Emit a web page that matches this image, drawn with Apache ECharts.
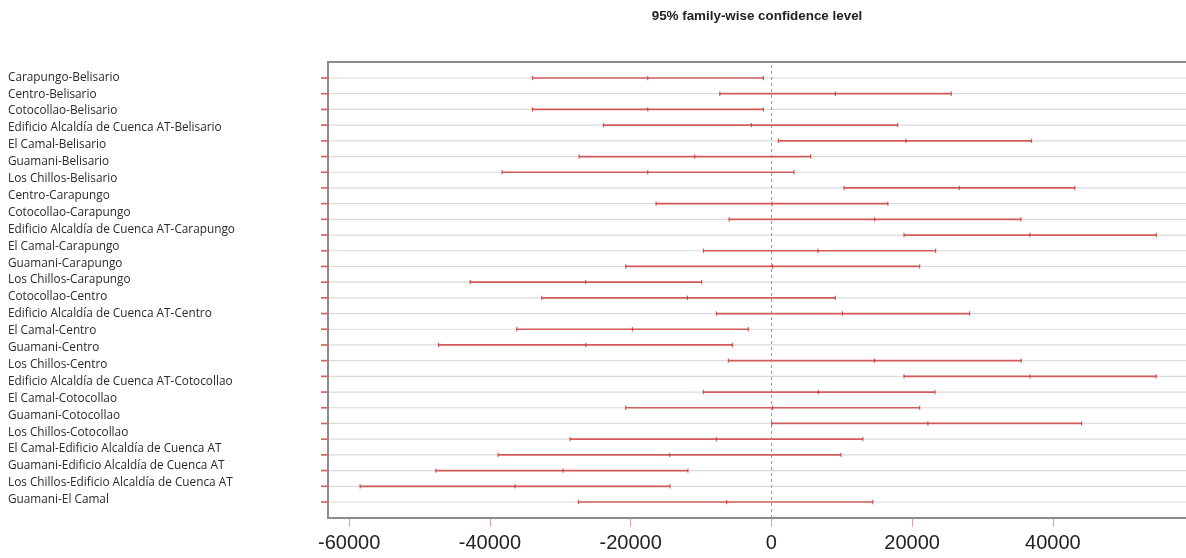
<!DOCTYPE html>
<html><head><meta charset="utf-8">
<script src="https://cdn.jsdelivr.net/npm/echarts@6/dist/echarts.min.js"></script>
<style>html,body{margin:0;padding:0;background:#fff}#c{width:1186px;height:558px}</style>
</head><body><div id="c"></div>
<script>
// All 28 pairwise comparisons (plot rows, top to bottom)
const comparisons = [
  'Carapungo-Belisario','Centro-Belisario','Cotocollao-Belisario','Edificio Alcaldía de Cuenca AT-Belisario',
  'El Camal-Belisario','Guamani-Belisario','Los Chillos-Belisario','Centro-Carapungo','Cotocollao-Carapungo',
  'Edificio Alcaldía de Cuenca AT-Carapungo','El Camal-Carapungo','Guamani-Carapungo','Los Chillos-Carapungo',
  'Cotocollao-Centro','Edificio Alcaldía de Cuenca AT-Centro','El Camal-Centro','Guamani-Centro','Los Chillos-Centro',
  'Edificio Alcaldía de Cuenca AT-Cotocollao','El Camal-Cotocollao','Guamani-Cotocollao','Los Chillos-Cotocollao',
  'El Camal-Edificio Alcaldía de Cuenca AT','Guamani-Edificio Alcaldía de Cuenca AT','Los Chillos-Edificio Alcaldía de Cuenca AT',
  'Guamani-El Camal','Los Chillos-El Camal','Los Chillos-Guamani'
];
// Labels printed at the left of the picture (26 of them)
const axisLabels = [
  'Carapungo-Belisario','Centro-Belisario','Cotocollao-Belisario','Edificio Alcaldía de Cuenca AT-Belisario',
  'El Camal-Belisario','Guamani-Belisario','Los Chillos-Belisario','Centro-Carapungo','Cotocollao-Carapungo',
  'Edificio Alcaldía de Cuenca AT-Carapungo','El Camal-Carapungo','Guamani-Carapungo','Los Chillos-Carapungo',
  'Cotocollao-Centro','Edificio Alcaldía de Cuenca AT-Centro','El Camal-Centro','Guamani-Centro','Los Chillos-Centro',
  'Edificio Alcaldía de Cuenca AT-Cotocollao','El Camal-Cotocollao','Guamani-Cotocollao','Los Chillos-Cotocollao',
  'El Camal-Edificio Alcaldía de Cuenca AT','Guamani-Edificio Alcaldía de Cuenca AT','Los Chillos-Edificio Alcaldía de Cuenca AT',
  'Guamani-El Camal'
];
const lwr  = [-33950,-7340,-33950,-23860,1000,-27330,-38270,10310,-16390,-6020,18840,-9660,-20700,-42810,-32630,-7810,-36180,-47300,-6110,18840,-9660,-20700,40,-28610,-38840,-47690,-58440,-27420];
const diff = [-17570,9090,-17570,-2840,19120,-10900,-17570,26700,80,14670,36730,6620,180,-26380,-11930,10090,-19740,-26380,14670,36730,6680,180,22240,-7810,-14450,-29600,-36420,-6350];
const upr  = [-1140,25570,-1140,17940,36970,5580,3210,43130,16560,35460,54690,23340,21070,-9900,9090,28170,-3270,-5540,35510,54690,23240,21070,44080,13010,9890,-11850,-14400,14430];
const xTicks = [-60000,-40000,-20000,0,20000,40000];
const titleText = '95% family-wise confidence level';

const xMin = -63000, xMax = 60620;
const nRows = comparisons.length;
const yMin = 1 - 1.02, yMax = nRows + 1.02;

const red = 'rgba(204,45,45,0.74)';
const rows = comparisons.map((n, i) => [lwr[i], diff[i], upr[i], nRows - i, n]);

const chart = echarts.init(document.getElementById('c'), null, {renderer: 'canvas'});
chart.setOption({
  animation: false,
  backgroundColor: '#fff',
  graphic: [{
    type: 'text', x: 757, y: 16,
    style: {text: titleText, align: 'center', verticalAlign: 'middle',
      font: 'bold 13.4px "Liberation Sans", Arial, sans-serif', fill: '#222'}
  }],
  grid: [
    {left: 328, top: 62, width: 870, height: 456, outerBoundsMode: 'none', containLabel: false, show: false},
    {left: 328, top: 68.85, width: 1, height: 439.4, outerBoundsMode: 'none', containLabel: false, show: false}
  ],
  xAxis: [
    {type: 'value', gridIndex: 0, min: xMin, max: xMax,
      axisLine: {show: false}, splitLine: {show: false},
      axisTick: {show: true, customValues: xTicks, length: 9, lineStyle: {color: '#d9a3a3', width: 1}},
      axisLabel: {customValues: xTicks, margin: 15, fontSize: 20, color: '#222',
        formatter: v => String(v),
        fontFamily: '"Liberation Sans", Arial, sans-serif'}},
    {type: 'value', gridIndex: 1, show: false}
  ],
  yAxis: [
    {type: 'value', gridIndex: 0, min: yMin, max: yMax, show: false},
    {type: 'category', gridIndex: 1, data: axisLabels, inverse: true,
      axisLine: {show: false}, axisTick: {show: false}, splitLine: {show: false},
      axisLabel: {interval: 0, align: 'left', margin: 320, fontSize: 11.8, color: '#2a2a2a',
        fontFamily: '"Open Sans", "Noto Sans", sans-serif'}}
  ],
  series: [{
    type: 'custom', xAxisIndex: 0, yAxisIndex: 0, clip: false,
    data: rows,
    encode: {x: [0, 1, 2], y: 3},
    renderItem: function (params, api) {
      const y = api.value(3);
      const pL = api.coord([api.value(0), y]);
      const pM = api.coord([api.value(1), y]);
      const pU = api.coord([api.value(2), y]);
      const g0 = api.coord([xMin, y]);
      const g1 = api.coord([xMax, y]);
      const yy = pL[1];
      const tick = p => ({type: 'line', shape: {x1: p[0], y1: yy - 2.2, x2: p[0], y2: yy + 2.2}, style: {stroke: red, lineWidth: 1.2}});
      const children = [
        {type: 'line', shape: {x1: g0[0] + 1, y1: yy, x2: g1[0], y2: yy}, style: {stroke: '#dadada', lineWidth: 1.2}},
        {type: 'line', shape: {x1: g0[0] - 7, y1: yy, x2: g0[0] - 1, y2: yy}, style: {stroke: red, lineWidth: 1.7}},
        {type: 'line', shape: {x1: pL[0], y1: yy, x2: pU[0], y2: yy}, style: {stroke: red, lineWidth: 1.7}},
        tick(pL), tick(pM), tick(pU)
      ];
      if (params.dataIndex === 0) {
        const tr = api.coord([xMax, yMax]), tl = api.coord([xMin, yMax]);
        const bl = api.coord([xMin, yMin]), br = api.coord([xMax, yMin]);
        children.unshift({type: 'polyline', shape: {points: [tr, tl, bl, br]},
          style: {stroke: '#8c8c8c', lineWidth: 2, fill: null}});
      }
      return {type: 'group', children: children};
    },
    markLine: {
      silent: true, symbol: 'none', label: {show: false},
      lineStyle: {type: [3, 3], color: '#e06a6a', width: 1, opacity: 0.9},
      data: [{xAxis: 0}]
    }
  }]
});
</script>
</body></html>
